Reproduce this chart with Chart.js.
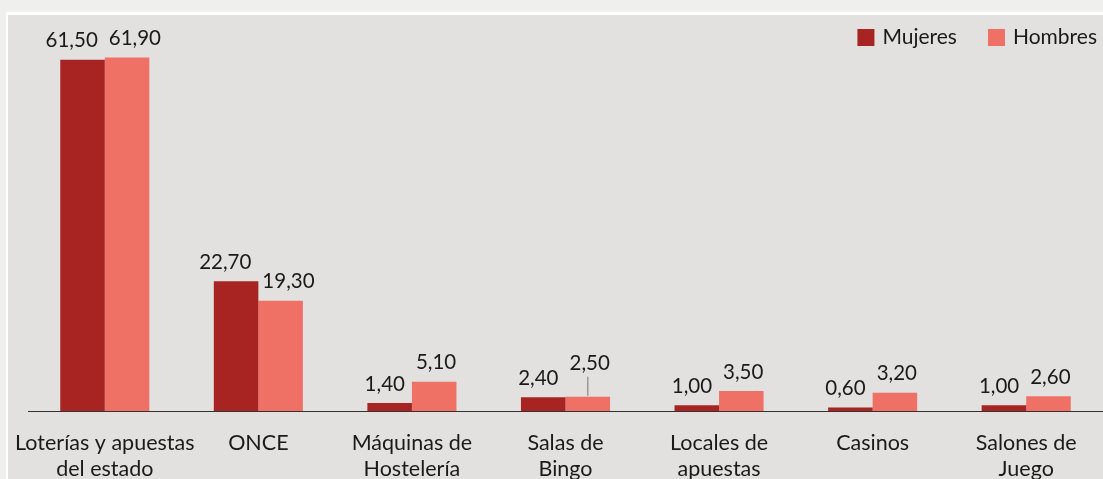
<!DOCTYPE html>
<html>
<head>
<meta charset="utf-8">
<script src="https://cdn.jsdelivr.net/npm/chart.js@4/dist/chart.umd.min.js"></script>
<style>
  html, body { margin: 0; padding: 0; background: #efefed; overflow: hidden; width: 1103px; height: 479px; }
  #panel { position: absolute; left: 6px; top: 12px; width: 1097px; height: 467px; background: #e2e1df;
           border-left: 2px solid #fff; border-top: 3px solid #fff; box-sizing: border-box; }
  #wrap { position: absolute; left: 0; top: 0; width: 1103px; height: 520px; }
</style>
</head>
<body>
<div id="panel"></div>
<div id="wrap"><canvas id="grafico" width="1103" height="520"></canvas></div>
<script>
// datos del gráfico
const categorias = [
  ['Loterías y apuestas', 'del estado'],
  'ONCE',
  ['Máquinas de', 'Hostelería'],
  ['Salas de', 'Bingo'],
  ['Locales de', 'apuestas'],
  'Casinos',
  ['Salones de', 'Juego']
];
const mujeres = [61.5, 22.7, 1.4, 2.4, 1.0, 0.6, 1.0];
const hombres = [61.9, 19.3, 5.1, 2.5, 3.5, 3.2, 2.6];
const series = ['Mujeres', 'Hombres'];

const colores = ['#a82422', '#ef7065'];
const fuente = 'Lato, "Open Sans", sans-serif';

function formato(v) {
  return v.toFixed(2).replace('.', ',');
}

// etiquetas de valor encima de cada barra
const etiquetasPlugin = {
  id: 'etiquetas',
  afterDatasetsDraw(chart) {
    const ctx = chart.ctx;
    ctx.save();
    ctx.font = '20.5px ' + fuente;
    ctx.fillStyle = '#1a1a1a';
    ctx.textBaseline = 'middle';
    chart.data.datasets.forEach((ds, i) => {
      const meta = chart.getDatasetMeta(i);
      meta.data.forEach((bar, j) => {
        const txt = formato(ds.data[j]);
        let y = bar.y - 19;
        let x;
        if (i === 0) {
          ctx.textAlign = 'right';
          x = bar.x + bar.width / 2 - 7;
        } else {
          ctx.textAlign = 'left';
          x = bar.x - bar.width / 2 + 4;
        }
        // Salas de Bingo: etiqueta de hombres elevada con guía
        if (i === 1 && j === 3) {
          y -= 14;
          ctx.strokeStyle = '#9a9a9a';
          ctx.lineWidth = 1.5;
          ctx.beginPath();
          ctx.moveTo(bar.x, y + 13);
          ctx.lineTo(bar.x, bar.y - 1);
          ctx.stroke();
        }
        ctx.fillText(txt, x, y);
      });
    });
    ctx.restore();
  }
};

// leyenda arriba a la derecha
const leyendaPlugin = {
  id: 'leyenda',
  afterDraw(chart) {
    const ctx = chart.ctx;
    ctx.save();
    ctx.font = '21px ' + fuente;
    ctx.textBaseline = 'middle';
    ctx.textAlign = 'left';
    let x = chart.width - 6;
    for (let i = series.length - 1; i >= 0; i--) {
      const w = ctx.measureText(series[i]).width;
      x -= w;
      ctx.fillStyle = '#1a1a1a';
      ctx.fillText(series[i], x, 37);
      x -= 8 + 17;
      ctx.fillStyle = colores[i];
      ctx.fillRect(x, 29, 17, 17);
      x -= 31;
    }
    ctx.restore();
  }
};

new Chart(document.getElementById('grafico'), {
  type: 'bar',
  data: {
    labels: categorias,
    datasets: [
      { label: series[0], data: mujeres, backgroundColor: colores[0], borderWidth: 0 },
      { label: series[1], data: hombres, backgroundColor: colores[1], borderWidth: 0 }
    ]
  },
  options: {
    responsive: false,
    animation: false,
    devicePixelRatio: 1,
    layout: { padding: { left: 28, right: 0, top: 34, bottom: 0 } },
    datasets: { bar: { barPercentage: 1, categoryPercentage: 0.58 } },
    plugins: {
      legend: { display: false },
      tooltip: { enabled: false }
    },
    scales: {
      x: {
        grid: { display: false, drawTicks: false },
        border: { display: true, color: '#333333', width: 1 },
        ticks: {
          font: { family: fuente, size: 21.5, lineHeight: 1.2 },
          color: '#1a1a1a',
          padding: 19,
          maxRotation: 0,
          autoSkip: false
        },
        afterFit(scale) {
          scale.height = 109;
          scale.paddingLeft = 0;
          scale.paddingRight = 0;
        }
      },
      y: { display: false, min: 0, max: 66 }
    }
  },
  plugins: [etiquetasPlugin, leyendaPlugin]
});
</script>
</body>
</html>
